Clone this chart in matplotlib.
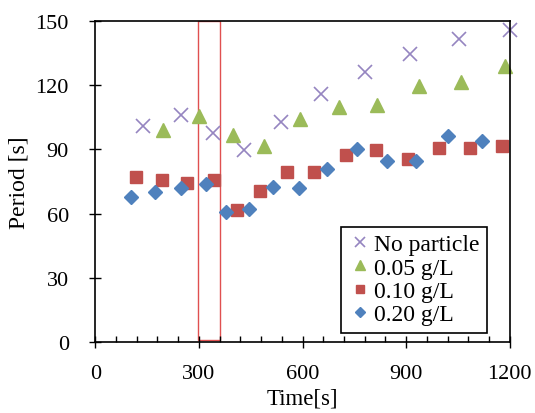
import matplotlib
matplotlib.use("Agg")
import matplotlib.pyplot as plt
from matplotlib.patches import Rectangle
from matplotlib.ticker import MultipleLocator

plt.rcParams['font.family'] = ['Liberation Serif', 'DejaVu Serif']

# data
t_none = [137, 248, 342, 432, 538, 653, 780, 910, 1052, 1201]
p_none = [101, 106, 97.6, 89.8, 102.6, 115.8, 126, 134.5, 141.8, 145.9]

t_005 = [196, 301, 400, 488, 594, 706, 816, 937, 1058, 1185]
p_005 = [99.1, 105.7, 96.7, 91.7, 104.1, 109.6, 110.7, 119.7, 121.6, 129]

t_010 = [118, 193, 267, 345, 410, 477, 556, 634, 725, 814, 904, 994, 1084, 1177]
p_010 = [77.2, 75.8, 74.3, 75.8, 61.6, 70.4, 79.7, 79.7, 87.3, 89.7, 85.5, 90.6, 90.5, 91.4]

t_020 = [104, 173, 248, 320, 378, 445, 515, 590, 670, 759, 843, 928, 1021, 1118]
p_020 = [67.6, 69.9, 71.8, 74.1, 60.9, 62.4, 72.7, 71.8, 80.8, 90.1, 84.4, 84.4, 96.1, 94]

# highlighted window
win_t0, win_t1 = 297, 360

fig = plt.figure(figsize=(5.35, 4.14), dpi=100)
ax = fig.add_axes([0.178, 0.171, 0.775, 0.776])

ax.plot(t_none, p_none, 'x', color='#9585c0', markersize=10, markeredgewidth=1.2,
        label='No particle', clip_on=False)
ax.plot(t_005, p_005, '^', color='#9bbb59', markersize=10, label='0.05 g/L', clip_on=False)
ax.plot(t_010, p_010, 's', color='#c0504d', markersize=9, label='0.10 g/L', clip_on=False)
ax.plot(t_020, p_020, 'D', color='#4f81bd', markersize=7.5, label='0.20 g/L', clip_on=False)

ax.add_patch(Rectangle((win_t0, 1), win_t1 - win_t0, 149, fill=False,
                       edgecolor='#e05050', linewidth=1.0))

ax.set_xlim(0, 1200)
ax.set_ylim(0, 150)
ax.xaxis.set_major_locator(MultipleLocator(300))
ax.xaxis.set_minor_locator(MultipleLocator(60))
ax.yaxis.set_major_locator(MultipleLocator(30))
ax.tick_params(axis='both', which='major', direction='inout', length=8, width=1,
               labelsize=16, colors='black')
ax.tick_params(axis='x', which='minor', direction='in', length=4, width=1)
ax.tick_params(axis='x', which='major', pad=12)
ax.tick_params(axis='y', which='major', pad=15)
for s in ax.spines.values():
    s.set_linewidth(1.2)

ax.set_xlabel('Time[s]', fontsize=16.5, labelpad=3)
ax.set_ylabel('Period [s]', fontsize=17, labelpad=4)

leg = ax.legend(loc='lower right', bbox_to_anchor=(0.945, 0.03), fontsize=17,
                frameon=True, fancybox=False, edgecolor='black', framealpha=1,
                markerscale=0.7, handlelength=1.0, handletextpad=0.1,
                borderpad=0.3, labelspacing=0.08, borderaxespad=0.0)
leg.get_frame().set_linewidth(1.2)

fig.savefig('out.png', dpi=100)
